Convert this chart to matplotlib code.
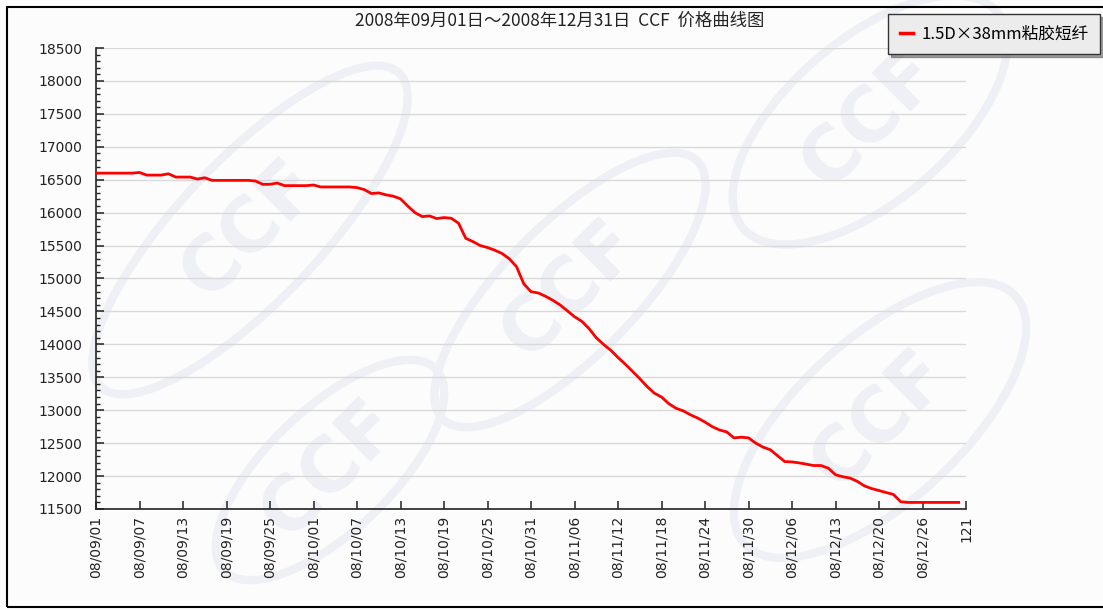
import numpy as np
import matplotlib
matplotlib.use('Agg')
import matplotlib.pyplot as plt
from matplotlib.patches import Rectangle, Ellipse
from matplotlib.ticker import MultipleLocator

plt.rcParams['font.family'] = ['DejaVu Sans', 'Noto Sans CJK SC']

# ── Data ──────────────────────────────────────────────────────
title = '2008年09月01日～2008年12月31日  CCF  价格曲线图'
series_name = '1.5D×38mm粘胶短纤'

prices = [
    16600, 16600, 16600, 16600, 16600, 16600, 16610, 16570, 16570, 16570,   # 0-9
    16590, 16540, 16540, 16540, 16510, 16530, 16490, 16490, 16490, 16490,   # 10-19
    16490, 16490, 16480, 16430, 16430, 16450, 16410, 16410, 16410, 16410,   # 20-29
    16420, 16390, 16390, 16390, 16390, 16390, 16380, 16350, 16290, 16300,   # 30-39
    16270, 16250, 16210, 16100, 16000, 15940, 15950, 15910, 15925, 15915,   # 40-49
    15840, 15610, 15560, 15500, 15470, 15430, 15380, 15300, 15180, 14920,   # 50-59
    14800, 14780, 14730, 14670, 14600, 14510, 14420, 14350, 14240, 14100,   # 60-69
    14000, 13910, 13800, 13700, 13590, 13480, 13360, 13260, 13200, 13100,   # 70-79
    13030, 12990, 12930, 12880, 12820, 12750, 12700, 12670, 12580, 12590,   # 80-89
    12580, 12500, 12440, 12400, 12310, 12220, 12215, 12200, 12180, 12160,   # 90-99
    12160, 12120, 12020, 11990, 11970, 11920, 11850, 11810, 11780, 11750,   # 100-109
    11720, 11610, 11600, 11600, 11600, 11600, 11600, 11600, 11600, 11600,   # 110-119
]

tick_pos = list(range(0, 121, 6))
tick_labels = ['08/09/01', '08/09/07', '08/09/13', '08/09/19', '08/09/25',
               '08/10/01', '08/10/07', '08/10/13', '08/10/19', '08/10/25',
               '08/10/31', '08/11/06', '08/11/12', '08/11/18', '08/11/24',
               '08/11/30', '08/12/06', '08/12/13', '08/12/20', '08/12/26',
               '121']

y_min, y_max = 11500, 18500

# ── Figure ────────────────────────────────────────────────────
W, H = 1103, 610
fig = plt.figure(figsize=(W / 100, H / 100), dpi=100)
fig.patch.set_facecolor('#fcfcfc')

# faint CCF watermarks in the background
wm_color = '#eef0f5'
for cx, cy, w, h, ang in [(250, 230, 170, 360, -25), (570, 290, 160, 300, -25),
                          (870, 120, 200, 270, -25), (330, 470, 150, 240, -25),
                          (880, 420, 200, 300, -25)]:
    fig.add_artist(Ellipse((cx / W, 1 - cy / H), w / W, h / H, angle=ang,
                           transform=fig.transFigure, fill=False,
                           edgecolor=wm_color, lw=6, zorder=-2))
    fig.text(cx / W, 1 - cy / H, 'CCF', fontsize=54, fontweight='bold',
             color=wm_color, rotation=45, ha='center', va='center', zorder=-2)

# outer frame
fig.add_artist(Rectangle((7 / W, 3 / H), 1.2, 1 - 10 / H, transform=fig.transFigure,
                         fill=False, edgecolor='black', lw=1.5, zorder=-1))

ax = fig.add_axes([96 / W, 1 - 509 / H, 870 / W, 461 / H])
ax.set_zorder(2)
ax.patch.set_alpha(0)

x = np.arange(len(prices))
ax.plot(x, prices, color='#ff0000', lw=2.0, label=series_name, zorder=3)

ax.set_xlim(0, 120)
ax.set_ylim(y_min, y_max)

ax.yaxis.set_major_locator(MultipleLocator(500))
ax.yaxis.set_minor_locator(MultipleLocator(100))
ax.set_xticks(tick_pos)
ax.set_xticklabels(tick_labels, rotation=90)

ax.grid(axis='y', color='#d9d9d9', lw=1)
ax.set_axisbelow(True)
for s in ['top', 'right']:
    ax.spines[s].set_visible(False)
for s in ['left', 'bottom']:
    ax.spines[s].set_color('#222222')
    ax.spines[s].set_linewidth(1.2)

ax.tick_params(axis='y', which='major', direction='in', length=6, width=1.1,
               pad=10, labelsize=10, colors='#222222')
ax.tick_params(axis='y', which='minor', direction='in', length=3, width=1.0,
               colors='#222222')
ax.tick_params(axis='x', direction='in', length=6, width=1.1, pad=5,
               labelsize=10, colors='#222222')

fig.text(560 / W, 1 - 21 / H, title, ha='center', va='center', fontsize=12.5,
         family=['Noto Sans CJK SC', 'DejaVu Sans'], color='#222222')

leg = ax.legend(loc='upper left', bbox_to_anchor=(888 / W, 1 - 14 / H),
                bbox_transform=fig.transFigure, borderaxespad=0,
                fancybox=False, shadow=True, frameon=True,
                handlelength=0.8, handletextpad=0.5, borderpad=0.7,
                prop={'family': ['Noto Sans CJK SC'], 'size': 12})
leg.get_frame().set_facecolor('#ececec')
leg.get_frame().set_edgecolor('#333333')
leg.get_frame().set_linewidth(1.0)
leg.get_frame().set_alpha(1)
leg.get_lines()[0].set_linewidth(2.5)

fig.savefig('out.png', dpi=100, facecolor=fig.get_facecolor())
